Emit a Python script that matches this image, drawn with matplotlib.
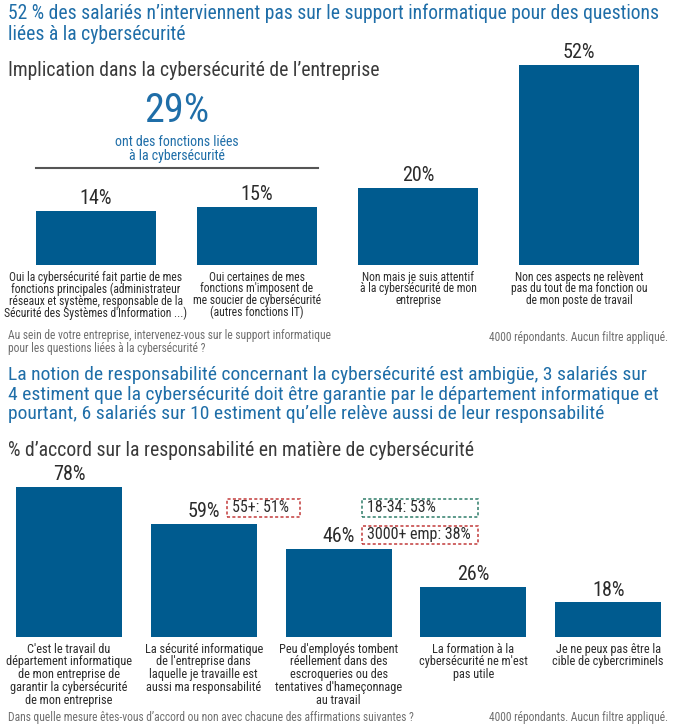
import matplotlib
matplotlib.use("Agg")
import matplotlib.pyplot as plt
from matplotlib import font_manager
from matplotlib.patches import Rectangle

# --- données ---
top_values = [14, 15, 20, 52]
top_labels = [
    "Oui la cybersécurité fait partie de mes\nfonctions principales (administrateur\nréseaux et système, responsable de la\nSécurité des Systèmes d'Information ...)",
    "Oui certaines de mes\nfonctions m'imposent de\nme soucier de cybersécurité\n(autres fonctions IT)",
    "Non mais je suis attentif\nà la cybersécurité de mon\nentreprise",
    "Non ces aspects ne relèvent\npas du tout de ma fonction ou\nde mon poste de travail",
]
bottom_values = [78, 59, 46, 26, 18]
bottom_labels = [
    "C'est le travail du\ndépartement informatique\nde mon entreprise de\ngarantir la cybersécurité\nde mon entreprise",
    "La sécurité informatique\nde l'entreprise dans\nlaquelle je travaille est\naussi ma responsabilité",
    "Peu d'employés tombent\nréellement dans des\nescroqueries ou des\ntentatives d'hameçonnage\nau travail",
    "La formation à la\ncybersécurité ne m'est\npas utile",
    "Je ne peux pas être la\ncible de cybercriminels",
]
callouts = ["55+: 51%", "18-34: 53%", "3000+ emp: 38%"]
title1 = ["52 % des salariés n’interviennent pas sur le support informatique pour des questions",
          "liées à la cybersécurité"]
title2 = ["La notion de responsabilité concernant la cybersécurité est ambigüe, 3 salariés sur",
          "4 estiment que la cybersécurité doit être garantie par le département informatique et",
          "pourtant, 6 salariés sur 10 estiment qu’elle relève aussi de leur responsabilité"]

BAR = "#005b8f"
BLUE = "#1f6ea8"
DARK = "#2b2b2b"
GREY = "#6f6f6f"
RED = "#c23b3b"
GREEN = "#2f7d6a"

installed = {f.name for f in font_manager.fontManager.ttflist}
font = next(f for f in ["Roboto Condensed", "Liberation Sans Narrow", "Roboto", "DejaVu Sans"]
            if f in installed)
plt.rcParams["font.family"] = [font, "DejaVu Sans"]

W, H = 678, 728
fig = plt.figure(figsize=(W / 100, H / 100), dpi=100)


def px(x, y):
    return x / W, 1 - y / H


def ftext(x, y, s, **kw):
    fx, fy = px(x, y)
    fig.text(fx, fy, s, **kw)


# --- en-tête 1 ---
for yy, line in zip([13, 34], title1):
    ftext(8, yy, line, color=BLUE, fontsize=14.1, va="center")
ftext(8, 70, "Implication dans la cybersécurité de l’entreprise", color="#3a3a3a", fontsize=14.2, va="center")

# --- graphique du haut ---
ax1 = fig.add_axes([15.5 / W, (H - 265) / H, 644 / W, 231 / H])
x1 = range(len(top_values))
ax1.bar(x1, top_values, width=0.745, color=BAR)
ax1.set_xlim(-0.5, len(top_values) - 0.5)
ax1.set_ylim(0, 60)
ax1.axis("off")
for i, v in enumerate(top_values):
    ax1.annotate(f"{v}%", (i, v), xytext=(0, 2), textcoords="offset points",
                 ha="center", va="bottom", fontsize=14.5, color=DARK)
    ax1.annotate(top_labels[i], (i, 0), xytext=(0, -4), textcoords="offset points",
                 ha="center", va="top", fontsize=8.4, color=DARK, linespacing=0.88)

ftext(177, 110, "29%", color=BLUE, fontsize=29, ha="center", va="center")
ftext(177, 149, "ont des fonctions liées\nà la cybersécurité", color=BLUE, fontsize=10,
      ha="center", va="center", linespacing=1.0)
fig.add_artist(plt.Line2D([36 / W, 318 / W], [px(0, 168)[1]] * 2, color="#555555", lw=1.5))

ftext(8, 342, "Au sein de votre entreprise, intervenez-vous sur le support informatique\npour les questions liées à la cybersécurité ?",
      color=GREY, fontsize=8.3, va="center", linespacing=1.0)
ftext(668, 337, "4000 répondants. Aucun filtre appliqué.", color=GREY, fontsize=8.3, ha="right", va="center")

# --- en-tête 2 ---
for yy, line in zip([375, 394.5, 414], title2):
    ftext(8, yy, line, color=BLUE, fontsize=14.0, va="center")
ftext(8, 451, "% d’accord sur la responsabilité en matière de cybersécurité", color="#3a3a3a",
      fontsize=14.2, va="center")

# --- graphique du bas ---
ax2 = fig.add_axes([1.6 / W, (H - 637) / H, 674 / W, 192 / H])
x2 = range(len(bottom_values))
ax2.bar(x2, bottom_values, width=0.786, color=BAR)
ax2.set_xlim(-0.5, len(bottom_values) - 0.5)
ax2.set_ylim(0, 100)
ax2.axis("off")
for i, v in enumerate(bottom_values):
    ax2.annotate(f"{v}%", (i, v), xytext=(0, 2), textcoords="offset points",
                 ha="center", va="bottom", fontsize=14.5, color=DARK)
    ax2.annotate(bottom_labels[i], (i, 0), xytext=(0, -4), textcoords="offset points",
                 ha="center", va="top", fontsize=8.8, color=DARK, linespacing=0.98)

# encadrés pointillés
boxes = [(227, 499, 73, 18, RED), (362, 499, 116, 18, GREEN), (362, 526, 116, 18, RED)]
for (bx, by, bw, bh, col), txt in zip(boxes, callouts):
    fx, fy = px(bx, by + bh)
    fig.add_artist(Rectangle((fx, fy), bw / W, bh / H, fill=False, ec=col, lw=1.1,
                             ls=(0, (2, 1.5)), transform=fig.transFigure))
    ftext(bx + 5, by + bh / 2, txt, color=DARK, fontsize=11.5, va="center")

ftext(8, 717, "Dans quelle mesure êtes-vous d’accord ou non avec chacune des affirmations suivantes ?",
      color=GREY, fontsize=8.3, va="center")
ftext(668, 717, "4000 répondants. Aucun filtre appliqué.", color=GREY, fontsize=8.3, ha="right", va="center")

fig.savefig("out.png", dpi=100, facecolor="white")
